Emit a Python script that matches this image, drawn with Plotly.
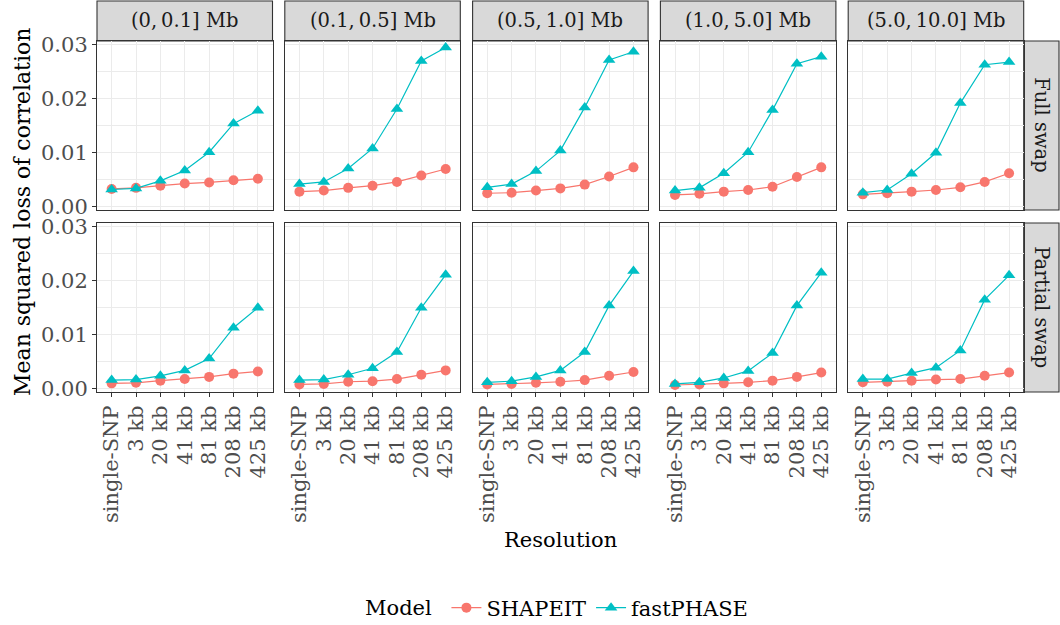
import plotly.graph_objects as go

# ---------------- data ----------------
resolutions = ["single-SNP", "3 kb", "20 kb", "41 kb", "81 kb", "208 kb", "425 kb"]
window_labels = ["(0,\u20090.1] Mb", "(0.1,\u20090.5] Mb", "(0.5,\u20091.0] Mb", "(1.0,\u20095.0] Mb", "(5.0,\u200910.0] Mb"]
swap_labels = ["Full swap", "Partial swap"]
models = ["SHAPEIT", "fastPHASE"]
y_ticks = [0.00, 0.01, 0.02, 0.03]
y_tick_text = ["0.00", "0.01", "0.02", "0.03"]

shapeit_full = [
    [0.0033, 0.0035, 0.0039, 0.0043, 0.0045, 0.0049, 0.0052],
    [0.0028, 0.0030, 0.0035, 0.0039, 0.0046, 0.0058, 0.0070],
    [0.0025, 0.0026, 0.0030, 0.0034, 0.0041, 0.0056, 0.0073],
    [0.0022, 0.0024, 0.0028, 0.0031, 0.0037, 0.0055, 0.0073],
    [0.0023, 0.0025, 0.0028, 0.0031, 0.0036, 0.0046, 0.0062],
]
fastphase_full = [
    [0.0032, 0.0034, 0.0048, 0.0067, 0.0101, 0.0154, 0.0178],
    [0.0042, 0.0046, 0.0071, 0.0108, 0.0181, 0.0270, 0.0295],
    [0.0036, 0.0042, 0.0066, 0.0104, 0.0184, 0.0272, 0.0287],
    [0.0030, 0.0035, 0.0062, 0.0101, 0.0179, 0.0265, 0.0278],
    [0.0026, 0.0031, 0.0061, 0.0100, 0.0192, 0.0263, 0.0268],
]
shapeit_partial = [
    [0.0010, 0.0011, 0.0015, 0.0018, 0.0022, 0.0028, 0.0032],
    [0.0008, 0.0009, 0.0013, 0.0014, 0.0018, 0.0026, 0.0034],
    [0.0008, 0.0009, 0.0011, 0.0013, 0.0016, 0.0024, 0.0031],
    [0.0007, 0.0008, 0.0010, 0.0012, 0.0015, 0.0022, 0.0030],
    [0.0012, 0.0013, 0.0015, 0.0017, 0.0018, 0.0024, 0.0030],
]
fastphase_partial = [
    [0.0016, 0.0017, 0.0024, 0.0034, 0.0056, 0.0113, 0.0150],
    [0.0016, 0.0017, 0.0026, 0.0038, 0.0068, 0.0150, 0.0211],
    [0.0012, 0.0014, 0.0022, 0.0034, 0.0068, 0.0154, 0.0218],
    [0.0009, 0.0012, 0.0020, 0.0033, 0.0066, 0.0154, 0.0215],
    [0.0018, 0.0018, 0.0029, 0.0039, 0.0071, 0.0165, 0.0210],
]

colors = {"SHAPEIT": "#F8766D", "fastPHASE": "#00BFC4"}
symbols = {"SHAPEIT": "circle", "fastPHASE": "triangle-up"}

# ---------------- layout geometry (pixels) ----------------
W, H = 1060, 625
FONT = "DejaVu Serif"
FS = 21
FS_STRIP = 19.5

def X(px):
    return px / W

def Y(py):
    return 1 - py / H

col_left = [97 + 187.8 * i for i in range(5)]
col_w = 175.5
row_top = [41, 223]
row_h = 169

fig = go.Figure()
layout = {}
shapes = []
annotations = []

series_rows = [(shapeit_full, fastphase_full), (shapeit_partial, fastphase_partial)]

for r in range(2):
    for c in range(5):
        k = r * 5 + c + 1
        sfx = "" if k == 1 else str(k)
        for m, data in zip(models, series_rows[r]):
            fig.add_trace(go.Scatter(
                x=resolutions, y=data[c], mode="lines+markers", name=m,
                legendgroup=m, showlegend=(k == 1),
                line=dict(color=colors[m], width=1.2),
                marker=dict(color=colors[m], symbol=symbols[m], size=10 if m == "SHAPEIT" else 11),
                xaxis="x" + sfx, yaxis="y" + sfx,
            ))
        bottom = (r == 1)
        left = (c == 0)
        layout["xaxis" + sfx] = dict(
            domain=[X(col_left[c]), X(col_left[c] + col_w)],
            anchor="y" + sfx, type="category", categoryorder="array",
            categoryarray=resolutions, range=[-0.6, 6.6],
            tickmode="array", tickvals=resolutions, ticktext=resolutions,
            showgrid=True, gridcolor="#EBEBEB", gridwidth=1.1,
            showline=True, mirror=True, linecolor="#333333", linewidth=1.1,
            ticks="outside" if bottom else "", ticklen=4, tickcolor="#333333", tickwidth=1.1,
            showticklabels=bottom, tickangle=-90,
            tickfont=dict(family=FONT, size=FS, color="#4D4D4D"),
            zeroline=False, fixedrange=True, automargin=False,
        )
        layout["yaxis" + sfx] = dict(
            domain=[Y(row_top[r] + row_h), Y(row_top[r])],
            anchor="x" + sfx, range=[-0.0006, 0.0307],
            tickmode="array", tickvals=y_ticks, ticktext=y_tick_text,
            showgrid=True, gridcolor="#EBEBEB", gridwidth=1.1,
            minor=dict(tickvals=[0.005, 0.015, 0.025], showgrid=True, gridcolor="#EBEBEB", gridwidth=0.6, ticks=""),
            showline=True, mirror=True, linecolor="#333333", linewidth=1.1,
            ticks="outside" if left else "", ticklen=4, tickcolor="#333333", tickwidth=1.1,
            showticklabels=left,
            tickfont=dict(family=FONT, size=FS, color="#4D4D4D"),
            zeroline=False, fixedrange=True, automargin=False,
        )

# top strips
for c, lab in enumerate(window_labels):
    shapes.append(dict(type="rect", xref="paper", yref="paper",
                       x0=X(col_left[c]), x1=X(col_left[c] + col_w), y0=Y(41), y1=Y(1),
                       fillcolor="#D9D9D9", line=dict(color="#333333", width=1.1), layer="below"))
    annotations.append(dict(text=lab, xref="paper", yref="paper",
                            x=X(col_left[c] + col_w / 2), y=Y(21), showarrow=False,
                            xanchor="center", yanchor="middle",
                            font=dict(family=FONT, size=FS_STRIP, color="#1A1A1A")))
# right strips
for r, lab in enumerate(swap_labels):
    shapes.append(dict(type="rect", xref="paper", yref="paper",
                       x0=X(col_left[4] + col_w), x1=X(1059), y0=Y(row_top[r] + row_h), y1=Y(row_top[r]),
                       fillcolor="#D9D9D9", line=dict(color="#333333", width=1.1), layer="below"))
    annotations.append(dict(text=lab, xref="paper", yref="paper",
                            x=X((col_left[4] + col_w + 1059) / 2), y=Y(row_top[r] + row_h / 2),
                            showarrow=False, textangle=90, xanchor="center", yanchor="middle",
                            font=dict(family=FONT, size=FS_STRIP, color="#1A1A1A")))

# axis titles
annotations.append(dict(text="Resolution", xref="paper", yref="paper",
                        x=X(560), y=Y(540), showarrow=False, xanchor="center", yanchor="middle",
                        font=dict(family=FONT, size=FS, color="black")))
annotations.append(dict(text="Mean squared loss of correlation", xref="paper", yref="paper",
                        x=X(23), y=Y(212), showarrow=False, textangle=-90,
                        xanchor="center", yanchor="middle",
                        font=dict(family=FONT, size=FS + 1, color="black")))

fig.update_layout(
    width=W, height=H, autosize=False,
    margin=dict(l=0, r=0, t=0, b=0, autoexpand=False),
    paper_bgcolor="white", plot_bgcolor="white",
    shapes=shapes, annotations=annotations,
    legend=dict(orientation="h", x=X(558), y=Y(608), xanchor="center", yanchor="middle",
                title=dict(text="Model ", font=dict(family=FONT, size=FS, color="black")),
                font=dict(family=FONT, size=FS, color="black"),
                bgcolor="rgba(0,0,0,0)", itemwidth=30),
    **layout,
)

fig.write_html("out.html",
               config={"displayModeBar": False},
               post_script="document.body.style.margin='0';document.body.style.overflow='hidden';")
